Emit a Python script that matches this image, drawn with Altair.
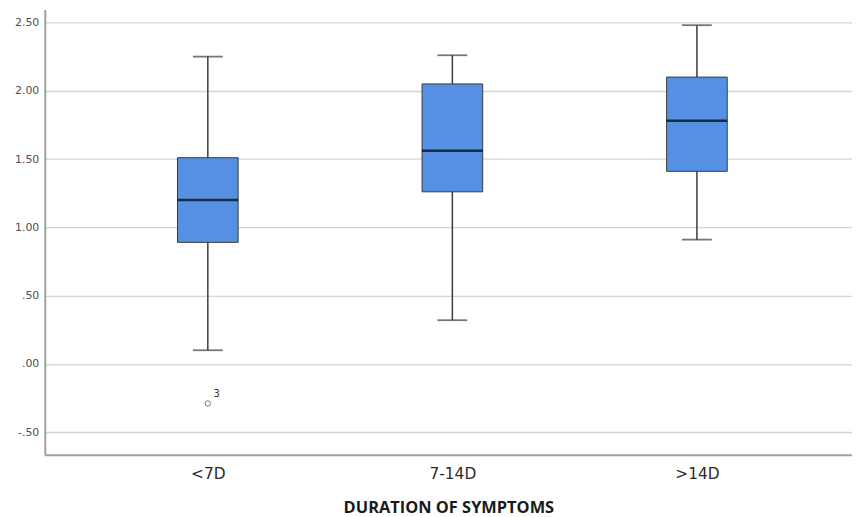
import altair as alt
import pandas as pd

categories = ["<7D", "7-14D", ">14D"]
whisker_low = [0.10, 0.32, 0.91]
q1 = [0.89, 1.26, 1.41]
median = [1.20, 1.56, 1.78]
q3 = [1.51, 2.05, 2.10]
whisker_high = [2.25, 2.26, 2.48]

outlier_cat = ["<7D"]
outlier_val = [-0.29]
outlier_label = ["3"]

box_df = pd.DataFrame({
    "cat": categories, "lo": whisker_low, "q1": q1, "med": median,
    "q3": q3, "hi": whisker_high,
})
out_df = pd.DataFrame({"cat": outlier_cat, "v": outlier_val, "lab": outlier_label})

FONT = "DejaVu Sans"
x_scale = alt.Scale(type="point", domain=categories, padding=0.6504, align=0.5125)
y_scale = alt.Scale(domain=[-0.666, 2.595], nice=False, zero=False)

x_axis = alt.Axis(
    title="DURATION OF SYMPTOMS", labelAngle=0, ticks=False, domain=True,
    domainColor="#a0a0a0", domainWidth=2, labelFont=FONT, labelFontSize=15.5,
    labelColor="#2a2a2a", labelPadding=12, titleFont="Open Sans", titleFontSize=16.5,
    titleFontWeight="bold", titleColor="#1a1a1a", titlePadding=17, grid=False,
)
y_axis = alt.Axis(
    title=None, values=[-0.5, 0, 0.5, 1.0, 1.5, 2.0, 2.5], ticks=False,
    domain=True, domainColor="#a0a0a0", domainWidth=2, grid=True,
    gridColor="#d4d4d4", gridWidth=1.3, labelFont=FONT, labelFontSize=11,
    labelColor="#505050", labelPadding=6,
    labelExpr="datum.value == 0 ? '.00' : datum.value == 0.5 ? '.50' : datum.value == -0.5 ? '-.50' : format(datum.value, '.2f')",
)

base = alt.Chart(box_df)

whisker = base.mark_rule(color="#3c3c3c", strokeWidth=1.5).encode(
    x=alt.X("cat:N", scale=x_scale, axis=x_axis, sort=categories),
    y=alt.Y("lo:Q", scale=y_scale, axis=y_axis),
    y2="hi:Q",
)
caps_lo = base.mark_tick(color="#3c3c3c", size=30, thickness=1.8).encode(
    x=alt.X("cat:N", scale=x_scale, sort=categories), y=alt.Y("lo:Q", scale=y_scale)
)
caps_hi = base.mark_tick(color="#3c3c3c", size=30, thickness=1.8).encode(
    x=alt.X("cat:N", scale=x_scale, sort=categories), y=alt.Y("hi:Q", scale=y_scale)
)
box = base.mark_bar(size=61, color="#5590E3", stroke="#3a3a3a", strokeWidth=1).encode(
    x=alt.X("cat:N", scale=x_scale, sort=categories),
    y=alt.Y("q1:Q", scale=y_scale),
    y2="q3:Q",
)
med = base.mark_tick(color="#000000", size=61, thickness=2.5).encode(
    x=alt.X("cat:N", scale=x_scale, sort=categories), y=alt.Y("med:Q", scale=y_scale)
)
outlier = alt.Chart(out_df).mark_point(
    shape="circle", size=30, filled=False, color="#444444", strokeWidth=1
).encode(x=alt.X("cat:N", scale=x_scale, sort=categories), y=alt.Y("v:Q", scale=y_scale))
out_text = alt.Chart(out_df).mark_text(
    dx=9, dy=-10, fontSize=10, font=FONT, color="#333333"
).encode(
    x=alt.X("cat:N", scale=x_scale, sort=categories), y=alt.Y("v:Q", scale=y_scale),
    text="lab:N",
)

chart = alt.layer(whisker, caps_lo, caps_hi, box, med, outlier, out_text).properties(
    width=812, height=448,
    autosize=alt.AutoSizeParams(type="none"),
    padding={"left": 37, "top": 0, "right": 0, "bottom": 62},
    background="white",
).configure_view(stroke=None)

chart.save("out.html", embed_options={"renderer": "svg", "actions": False})
